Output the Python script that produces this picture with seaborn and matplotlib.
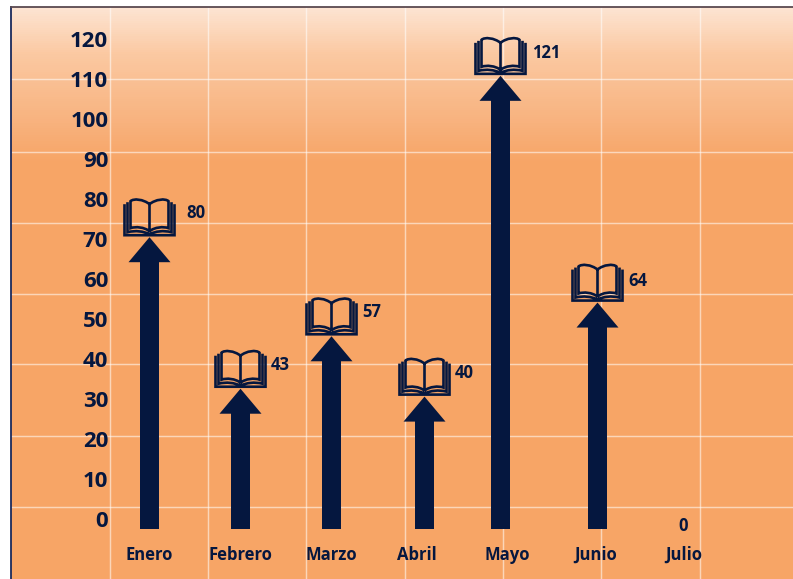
import numpy as np
import seaborn as sns
import matplotlib.pyplot as plt
from matplotlib.colors import LinearSegmentedColormap
from matplotlib.path import Path
from matplotlib.patches import PathPatch
from matplotlib.transforms import Affine2D, ScaledTranslation

sns.set_theme(style='white')
plt.rcParams['font.family'] = ['Open Sans', 'DejaVu Sans']

# datos
meses = ['Enero', 'Febrero', 'Marzo', 'Abril', 'Mayo', 'Junio', 'Julio']
libros = [80, 43, 57, 40, 121, 64, 0]
ticks_y = list(range(0, 130, 10))

# estilo y posiciones en pixeles
NAVY = '#05173F'
PX_X = 89
PX_Y = 3.96
BASE = 6.56
HEAD_H = 25
HEAD_W = 21
nudge = [0, 2, 4, 8, -5, 3, 0]
nudge_y = [1, -4, -7, 0, 0, -1, 0]
label_dx = [46, 40, 40, 40, 46, 40, 0]
label_dy = [24, 24, 24, 24, 23, 22, 29]
tick_dx = [0, 2, 4, 0, 2, 1, 0]
grid_x = [110, 208, 306, 405, 503, 601, 700]
grid_y = [79, 152, 223, 294, 364, 436, 507]

W, H = 793, 579
fig = plt.figure(figsize=(W / 100, H / 100), dpi=100)
rect = [11 / W, 0, (W - 11) / W, 572 / H]

# fondo con degradado y rejilla
bg = fig.add_axes(rect, zorder=0)
cmap = LinearSegmentedColormap.from_list('fondo', [
    (0, '#FDE4D2'), (0.08, '#FBC9A2'), (0.2, '#F8B27E'), (0.27, '#F7A566'), (1, '#F7A566')])
bg.imshow(np.linspace(0, 1, 572).reshape(-1, 1), cmap=cmap, aspect='auto',
          extent=[11, W, H, 7], vmin=0, vmax=1)
bg.set_xticks(grid_x)
bg.set_yticks(grid_y)
bg.grid(True, color='white', alpha=0.55, lw=1.05)
bg.tick_params(left=False, bottom=False, labelleft=False, labelbottom=False)
for s in ['right', 'bottom']:
    bg.spines[s].set_visible(False)
bg.spines['left'].set_color('#1A2A5C')
bg.spines['top'].set_color('#5A4A50')
bg.spines['left'].set_linewidth(1.3)
bg.spines['top'].set_linewidth(1.3)

# escala de la izquierda
ax_y = fig.add_axes(rect, zorder=1, facecolor='none')
ax_y.set_xlim(0, 1)
ax_y.set_ylim((519 - H) / 4, (519 - 7) / 4)
ax_y.set_yticks(ticks_y)
ax_y.set_yticklabels([str(t) for t in ticks_y], fontsize=16, fontweight='bold', color=NAVY)
ax_y.tick_params(axis='y', left=False, pad=-70, length=0)
ax_y.set_xticks([])
sns.despine(ax=ax_y, left=True, bottom=True)

# flechas
ax = fig.add_axes(rect, zorder=2, facecolor='none')
sns.barplot(x=meses, y=libros, color=NAVY, saturation=1, width=18.5 / PX_X, ax=ax)
ax.set_xlim((11 - 149.5) / PX_X, (W - 149.5) / PX_X)
ax.set_ylim((555 - H) / PX_Y, (555 - 7) / PX_Y)
ax.set_yticks([])
ax.tick_params(axis='x', bottom=False, pad=-24, length=0)
ax.set_xticks(range(len(meses)))
ax.set_xticklabels(meses, fontsize=12, fontweight='bold', color=NAVY)
for lab, dx in zip(ax.get_xticklabels(), tick_dx):
    lab.set_transform(lab.get_transform() + ScaledTranslation(dx / 100, 0, fig.dpi_scale_trans))
sns.despine(ax=ax, left=True, bottom=True)

# libro dibujado en pixeles respecto a la punta de la flecha
M, L, C, Z = Path.MOVETO, Path.LINETO, Path.CURVE4, Path.CLOSEPOLY
verts, codes = [], []
for sgn in (-1, 1):
    v = [(-25, 33), (-25, 2), (0, 2),
         (-22, 35), (-22, 5), (-14, 7), (-6, 6), (0, 3),
         (0, 33), (-6, 38), (-16, 39), (-19, 36), (-19, 9), (-14, 11), (-5, 10), (0, 6)]
    c = [M, L, L,
         M, L, C, C, C,
         M, C, C, C, L, C, C, C]
    verts += [(sgn * a, b) for a, b in v]
    codes += c
verts += [(0, 33), (0, 5)]
codes += [M, L]
libro = Path(verts, codes)
cabeza = Path([(0, 0), (-HEAD_W, -HEAD_H), (HEAD_W, -HEAD_H), (0, 0)], [M, L, L, Z])

for i, (bar, valor) in enumerate(zip(ax.patches, libros)):
    if valor == 0:
        bar.set_visible(False)
        ax.text(i, valor + label_dy[i] / PX_Y, str(valor), ha='center', va='center',
                fontsize=12, fontweight='bold', color=NAVY)
        continue
    x = i + nudge[i] / PX_X
    y = valor + nudge_y[i] / PX_Y
    bar.set_x(x - 9.25 / PX_X)
    bar.set_y(BASE)
    bar.set_height(y - BASE - (HEAD_H - 1) / PX_Y)
    bar.set_linewidth(0)
    tr = Affine2D().scale(1 / PX_X, 1 / PX_Y).translate(x, y) + ax.transData
    ax.add_patch(PathPatch(cabeza, fc=NAVY, ec='none', transform=tr))
    ax.add_patch(PathPatch(libro, fc='none', ec=NAVY, lw=1.9, transform=tr))
    ax.text(x + label_dx[i] / PX_X, y + label_dy[i] / PX_Y, str(valor), ha='center',
            va='center', fontsize=12, fontweight='bold', color=NAVY)

fig.savefig('out.png', dpi=100)
